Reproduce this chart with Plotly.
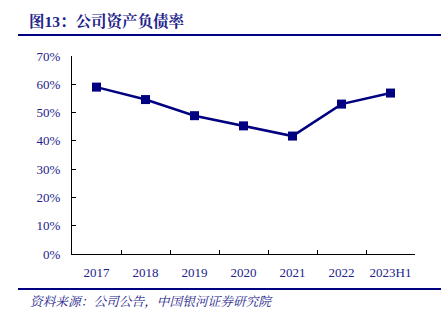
import plotly.graph_objects as go

categories = ["2017", "2018", "2019", "2020", "2021", "2022", "2023H1"]
debt_ratio = [0.590, 0.546, 0.489, 0.453, 0.417, 0.530, 0.569]
y_ticks = [0, 0.1, 0.2, 0.3, 0.4, 0.5, 0.6, 0.7]
y_tick_labels = ["0%", "10%", "20%", "30%", "40%", "50%", "60%", "70%"]
title_text = "图13：公司资产负债率"
source_text = "资料来源：公司公告，中国银河证券研究院"

NAVY = "#000080"
TXT = "#22228a"
SERIF = "Liberation Serif, Times New Roman, Noto Serif CJK SC, Noto Sans CJK SC, serif"

L, R, T, B = 72, 30, 56, 70
W, H = 445, 324
pw = W - L - R
ph = H - T - B

def px(x):
    return (x - L) / pw

def py(y):
    return (H - B - y) / ph

fig = go.Figure()
fig.add_trace(go.Scatter(
    x=categories, y=debt_ratio, mode="lines+markers",
    line=dict(color=NAVY, width=2.5),
    marker=dict(symbol="square", size=9, color=NAVY),
    showlegend=False, hoverinfo="skip",
))

fig.update_layout(
    width=W, height=H,
    margin=dict(l=L, r=R, t=T, b=B),
    paper_bgcolor="white", plot_bgcolor="white",
    xaxis=dict(
        type="category", range=[-0.5, 6.5], tickangle=0,
        showline=True, linecolor="black", linewidth=1,
        ticks="inside", tickson="boundaries", ticklen=4, tickcolor="black",
        showgrid=False, zeroline=False, ticklabelstandoff=6,
        tickfont=dict(family=SERIF, size=13, color=TXT),
    ),
    yaxis=dict(
        range=[0, 0.7], tickvals=y_ticks, ticktext=y_tick_labels,
        showline=True, linecolor="black", linewidth=1,
        ticks="inside", ticklen=4, tickcolor="black",
        showgrid=False, zeroline=False, ticklabelstandoff=8,
        tickfont=dict(family=SERIF, size=13, color=TXT),
    ),
    shapes=[
        dict(type="line", xref="paper", yref="paper", x0=px(18), x1=px(441),
             y0=py(35), y1=py(35), line=dict(color=NAVY, width=2)),
        dict(type="line", xref="paper", yref="paper", x0=px(18), x1=px(441),
             y0=py(289), y1=py(289), line=dict(color=NAVY, width=2)),
    ],
    annotations=[
        dict(text="<b>" + title_text + "</b>", xref="paper", yref="paper",
             x=px(27), y=py(21), xanchor="left", yanchor="middle",
             showarrow=False, font=dict(family=SERIF, size=15.5, color=TXT)),
        dict(text="<i>" + source_text + "</i>", xref="paper", yref="paper",
             x=px(28), y=py(302), xanchor="left", yanchor="middle",
             showarrow=False, font=dict(family=SERIF, size=12.7, color=TXT)),
    ],
)

fig.write_html("out.html")
